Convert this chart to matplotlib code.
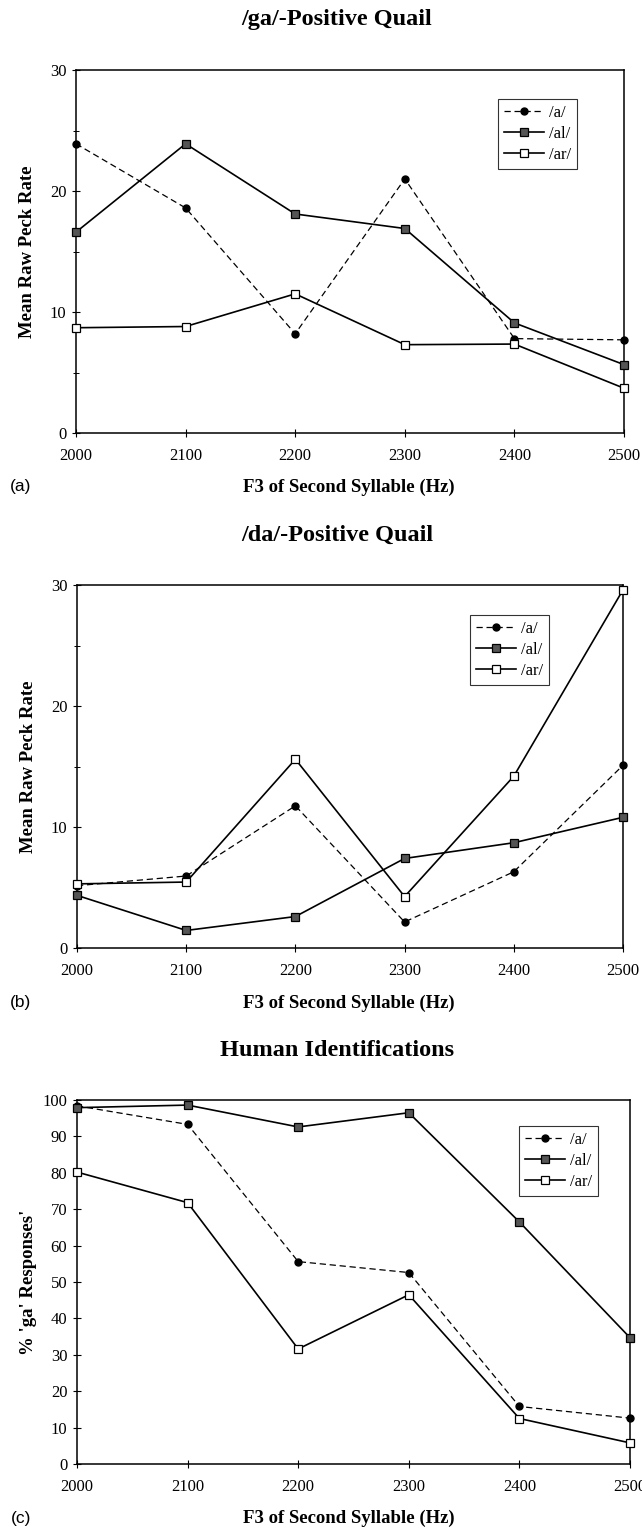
import numpy as np
import matplotlib
matplotlib.use("Agg")
import matplotlib.pyplot as plt

# F3 of second syllable (Hz)
f3 = [2000, 2100, 2200, 2300, 2400, 2500]

# (a) /ga/-positive quail, mean raw peck rate
ga_a = [23.9, 18.6, 8.2, 21.0, 7.8, 7.7]
ga_al = [16.6, 23.9, 18.1, 16.9, 9.1, 5.65]
ga_ar = [8.7, 8.8, 11.5, 7.3, 7.35, 3.7]

# (b) /da/-positive quail
da_a = [5.15, 5.95, 11.75, 2.15, 6.3, 15.1]
da_al = [4.35, 1.45, 2.6, 7.4, 8.7, 10.8]
da_ar = [5.3, 5.45, 15.6, 4.25, 14.2, 29.6]

# (c) human identifications, % 'ga' responses
hu_a = [98.4, 93.3, 55.6, 52.6, 15.8, 12.6]
hu_al = [97.9, 98.6, 92.6, 96.5, 66.5, 34.7]
hu_ar = [80.2, 71.8, 31.6, 46.5, 12.5, 5.8]

series_labels = ['/a/', '/al/', '/ar/']

plt.rcParams['font.family'] = ['Liberation Serif', 'DejaVu Serif']

W, H = 642, 1532
fig = plt.figure(figsize=(W / 100, H / 100), dpi=100)


def fy(px):
    # pixel row from top -> figure fraction
    return 1 - px / H


def draw_panel(ax, a, al, ar, ymax, ystep, minor, legend_pos):
    ax.plot(f3, a, color='black', lw=0.9, ls=(0, (5, 3)), marker='o',
            ms=5, mfc='black', mec='black', clip_on=False, zorder=3,
            label=series_labels[0])
    ax.plot(f3, al, color='black', lw=1.2, marker='s', ms=5.5,
            mfc='#555555', mec='black', mew=0.9, clip_on=False, zorder=3,
            label=series_labels[1])
    ax.plot(f3, ar, color='black', lw=1.2, marker='s', ms=5.5,
            mfc='white', mec='black', mew=0.9, clip_on=False, zorder=3,
            label=series_labels[2])
    ax.set_xlim(2000, 2500)
    ax.set_ylim(0, ymax)
    ax.set_xticks(f3)
    ax.set_yticks(np.arange(0, ymax + 1, ystep))
    if minor:
        ax.set_yticks(np.arange(ystep / 2, ymax, ystep), minor=True)
    ax.tick_params(axis='x', direction='inout', length=6, width=0.8,
                   labelsize=12, pad=8)
    ax.tick_params(axis='y', direction='inout', length=6, width=0.8,
                   labelsize=12, pad=4)
    ax.tick_params(which='minor', direction='inout', length=5, width=0.7)
    for s in ax.spines.values():
        s.set_linewidth(1.1)
    leg = ax.legend(loc='upper left', bbox_to_anchor=legend_pos, fontsize=12,
                    frameon=True, fancybox=False, edgecolor='black',
                    handlelength=2.4, borderpad=0.35, labelspacing=0.3,
                    handletextpad=0.3, borderaxespad=0)
    leg.get_frame().set_linewidth(0.8)


def add_texts(title, title_y, xlabel_y, tag):
    fig.text(337 / W, fy(title_y), title, ha='center', va='center',
             fontsize=17.5, fontweight='bold')
    fig.text(349 / W, fy(xlabel_y), 'F3 of Second Syllable (Hz)', ha='center',
             va='center', fontsize=13.5, fontweight='bold')
    fig.text(21 / W, fy(xlabel_y), tag, ha='center', va='center',
             fontsize=12.5, family='Liberation Sans')


ax1 = fig.add_axes([76 / W, fy(433), 548 / W, 363 / H])
draw_panel(ax1, ga_a, ga_al, ga_ar, 30, 10, True, (0.77, 0.92))
ax1.set_ylabel('Mean Raw Peck Rate', fontsize=13.5, fontweight='bold', labelpad=10)
add_texts('/ga/-Positive Quail', 20, 487, '(a)')

ax2 = fig.add_axes([77 / W, fy(948), 546 / W, 363 / H])
draw_panel(ax2, da_a, da_al, da_ar, 30, 10, True, (0.72, 0.917))
ax2.set_ylabel('Mean Raw Peck Rate', fontsize=13.5, fontweight='bold', labelpad=10)
add_texts('/da/-Positive Quail', 535, 1003, '(b)')

ax3 = fig.add_axes([77 / W, fy(1464), 553 / W, 364 / H])
draw_panel(ax3, hu_a, hu_al, hu_ar, 100, 10, False, (0.80, 0.929))
ax3.set_ylabel("% 'ga' Responses'", fontsize=13.5, fontweight='bold', labelpad=4)
add_texts('Human Identifications', 1050, 1518, '(c)')

fig.savefig('out.png', dpi=100)
